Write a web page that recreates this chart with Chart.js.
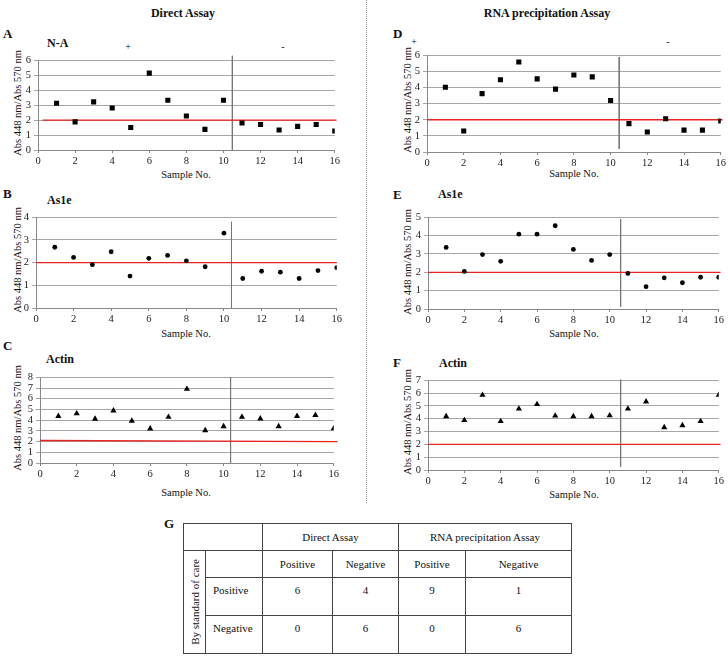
<!DOCTYPE html>
<html>
<head>
<meta charset="utf-8">
<script src="https://cdn.jsdelivr.net/npm/chart.js@4.4.1/dist/chart.umd.min.js"></script>
<style>
  html, body { margin: 0; padding: 0; background: #fff; }
  body { width: 728px; height: 658px; position: relative; overflow: hidden;
         font-family: "Liberation Serif", "DejaVu Serif", serif; color: #111; }
  .t { position: absolute; white-space: nowrap; line-height: 1; }
  .c { transform: translate(-50%, -50%); }
  .l { transform: translate(0, -50%); }
  .b { font-weight: bold; }
  .yt { position: absolute; white-space: nowrap; font-size: 10.5px; line-height: 1;
        transform: translate(-50%, -50%) rotate(-90deg); }
  .cv { position: absolute; }
  #sep { position: absolute; left: 366px; top: 0; height: 503px; border-left: 1px dotted #888; }
  table { position: absolute; left: 183px; top: 523px; border-collapse: collapse;
          font-size: 11px; font-family: "Liberation Serif", "DejaVu Serif", serif; }
  td { border: 1px solid #444; text-align: center; padding: 0; }
  .rot { writing-mode: vertical-rl; transform: rotate(180deg); white-space: nowrap; }
</style>
</head>
<body>
<div id="sep"></div>

<div class="t c b" style="left:183px;top:13px;font-size:12px;">Direct Assay</div>
<div class="t c b" style="left:547px;top:13px;font-size:12px;">RNA precipitation Assay</div>

<div class="t l b" style="left:3px;top:33px;font-size:13px;">A</div>
<div class="t l b" style="left:47px;top:43px;font-size:12px;">N-A</div>
<div class="t c" style="left:128px;top:47px;font-size:10px;">+</div>
<div class="t c" style="left:283px;top:47px;font-size:10px;">-</div>

<div class="t l b" style="left:393px;top:33px;font-size:13px;">D</div>
<div class="t c" style="left:414px;top:42px;font-size:10px;">+</div>
<div class="t c" style="left:668px;top:42px;font-size:10px;">-</div>

<div class="t l b" style="left:3px;top:193px;font-size:13px;">B</div>
<div class="t l b" style="left:47px;top:200px;font-size:12px;">As1e</div>
<div class="t l b" style="left:393px;top:194px;font-size:13px;">E</div>
<div class="t l b" style="left:438px;top:194px;font-size:12px;">As1e</div>

<div class="t l b" style="left:3px;top:345px;font-size:13px;">C</div>
<div class="t l b" style="left:46px;top:359px;font-size:12px;">Actin</div>
<div class="t l b" style="left:393px;top:362px;font-size:13px;">F</div>
<div class="t l b" style="left:439px;top:363px;font-size:12px;">Actin</div>

<div class="yt" style="left:18px;top:103px;">Abs 448 nm/Abs 570 nm</div>
<div class="yt" style="left:408px;top:100px;">Abs 448 nm/Abs 570 nm</div>
<div class="yt" style="left:18px;top:260px;">Abs 448 nm/Abs 570 nm</div>
<div class="yt" style="left:408px;top:262px;">Abs 448 nm/Abs 570 nm</div>
<div class="yt" style="left:18px;top:418px;">Abs 448 nm/Abs 570 nm</div>
<div class="yt" style="left:408px;top:422px;">Abs 448 nm/Abs 570 nm</div>

<div class="t c" style="left:186px;top:175px;font-size:10.5px;">Sample No.</div>
<div class="t c" style="left:574px;top:174px;font-size:10.5px;">Sample No.</div>
<div class="t c" style="left:186px;top:334px;font-size:10.5px;">Sample No.</div>
<div class="t c" style="left:574px;top:334px;font-size:10.5px;">Sample No.</div>
<div class="t c" style="left:186px;top:493px;font-size:10.5px;">Sample No.</div>
<div class="t c" style="left:574px;top:495px;font-size:10.5px;">Sample No.</div>

<canvas id="cA" class="cv"></canvas>
<canvas id="cB" class="cv"></canvas>
<canvas id="cC" class="cv"></canvas>
<canvas id="cD" class="cv"></canvas>
<canvas id="cE" class="cv"></canvas>
<canvas id="cF" class="cv"></canvas>

<div class="t l b" style="left:164px;top:523px;font-size:13px;">G</div>
<table id="tbl"></table>

<script>
// ---- data ----
const samples = [1,2,3,4,5,6,7,8,9,10,11,12,13,14,15,16];
const naDirect    = [3.13,1.88,3.22,2.81,1.51,5.14,3.33,2.27,1.38,3.33,1.81,1.71,1.34,1.58,1.71,1.27];
const naRna       = [4.02,1.30,3.62,4.48,5.58,4.54,3.90,4.78,4.66,3.20,1.76,1.24,2.06,1.36,1.36,1.92];
const as1eDirect  = [2.68,2.23,1.91,2.48,1.41,2.19,2.32,2.08,1.82,3.30,1.30,1.62,1.58,1.30,1.65,1.78];
const as1eRna     = [3.36,2.05,2.97,2.60,4.08,4.08,4.54,3.25,2.65,2.97,1.94,1.22,1.70,1.43,1.73,1.73];
const actinDirect = [4.38,4.62,4.11,4.89,3.93,3.20,4.29,6.91,3.05,3.41,4.29,4.14,3.41,4.38,4.47,3.23];
const actinRna    = [4.18,3.88,5.85,3.80,4.78,5.13,4.23,4.18,4.18,4.25,4.78,5.33,3.33,3.48,3.80,5.85];
const cutoff = 2;
const xMin = 0, xMax = 16, xStep = 2;
const yMaxA = 6, yMaxB = 4, yMaxC = 8, yMaxD = 6, yMaxE = 5, yMaxF = 7;
const dividerX = 10.5;

const tableColHeads = ['Direct Assay', 'RNA precipitation Assay'];
const tableSubHeads = ['Positive', 'Negative', 'Positive', 'Negative'];
const tableRowHeads = ['Positive', 'Negative'];
const tableSideHead = 'By standard of care';
const tableValues = [[6, 4, 9, 1], [0, 6, 0, 6]];

// ---- layout (canvas boxes) ----
const Y_W = 30, X_H = 22, PAD_T = 6, PAD_R = 7;
function place(id, plot) {
  const cv = document.getElementById(id);
  const left = plot.l - Y_W, top = plot.t - PAD_T;
  const w = plot.r + PAD_R - left, h = plot.b + X_H - top;
  cv.style.left = left + 'px'; cv.style.top = top + 'px';
  cv.style.width = w + 'px'; cv.style.height = h + 'px';
  cv.width = w; cv.height = h;
  return cv;
}

const tickFont = { family: '"Liberation Serif", "DejaVu Serif", serif', size: 10.5 };

function makeChart(id, plot, values, yMax, style, radius, red, div) {
  const cv = place(id, plot);
  const pts = samples.map((s, i) => ({ x: s, y: values[i] }));
  new Chart(cv, {
    type: 'scatter',
    data: {
      datasets: [
        { data: pts, pointStyle: style, pointRadius: radius, pointHoverRadius: radius,
          backgroundColor: '#000', borderColor: '#000', borderWidth: 0, order: 0 },
        { type: 'line', data: [{ x: red[0], y: red[1] }, { x: red[2], y: red[3] }],
          borderColor: '#e8231f', borderWidth: 1.3, pointRadius: 0, showLine: true,
          clip: false, order: 1 },
        { type: 'line', data: [{ x: dividerX + div[0], y: div[1] }, { x: dividerX + div[0], y: div[2] }],
          borderColor: '#777', borderWidth: 1, pointRadius: 0, showLine: true,
          clip: false, order: 2 }
      ]
    },
    options: {
      responsive: false, animation: false, devicePixelRatio: 1,
      layout: { padding: { top: PAD_T, right: PAD_R, left: 0, bottom: 0 } },
      plugins: { legend: { display: false }, tooltip: { enabled: false } },
      scales: {
        x: {
          type: 'linear', min: xMin, max: xMax, offset: false,
          ticks: { stepSize: xStep, autoSkip: false, font: tickFont, color: '#222', padding: 2, maxRotation: 0 },
          grid: { drawOnChartArea: false, drawTicks: true, tickLength: 3, color: '#888' },
          border: { color: '#888' },
          afterFit: s => { s.height = X_H; }
        },
        y: {
          min: 0, max: yMax,
          ticks: { stepSize: 1, autoSkip: false, font: tickFont, color: '#222', padding: 3 },
          grid: { color: '#a6a6a6', lineWidth: 1, tickLength: 4, drawTicks: true },
          border: { color: '#888' },
          afterFit: s => { s.width = Y_W; }
        }
      }
    }
  });
}

makeChart('cA', { l: 38, r: 335, t: 57, b: 150 }, naDirect, yMaxA, 'rect', 3.6, [0.25, cutoff, 16.1, cutoff], [-0.02, 6.3, 0]);
makeChart('cD', { l: 427, r: 721, t: 52, b: 152 }, naRna, yMaxD, 'rect', 3.6, [0, cutoff, 16.1, cutoff], [-0.03, 5.9, 0.2]);
makeChart('cB', { l: 36, r: 337, t: 214, b: 308 }, as1eDirect, yMaxB, 'circle', 2.4, [0, cutoff, 16, cutoff], [-0.1, 3.8, 0]);
makeChart('cE', { l: 428, r: 719, t: 214, b: 309 }, as1eRna, yMaxE, 'circle', 2.4, [0, cutoff, 16.1, cutoff], [0.1, 4.9, 0.12]);
makeChart('cC', { l: 40, r: 334, t: 374, b: 463 }, actinDirect, yMaxC, 'triangle', 3.6, [0, 2.1, 16.2, 2.0], [-0.12, 8, 0]);
makeChart('cF', { l: 428, r: 719, t: 377, b: 470 }, actinRna, yMaxF, 'triangle', 3.6, [0, cutoff, 16.1, cutoff], [0.1, 7.05, 0.25]);

// ---- table ----
(function () {
  const t = document.getElementById('tbl');
  const colW = [22, 57, 70, 66, 67, 106];
  const rowH = [27, 27, 38, 38];
  let h = '<colgroup>' + colW.map(w => '<col style="width:' + w + 'px">').join('') + '</colgroup>';
  h += '<tr style="height:' + rowH[0] + 'px"><td colspan="2"></td>' +
       tableColHeads.map(c => '<td colspan="2">' + c + '</td>').join('') + '</tr>';
  h += '<tr style="height:' + rowH[1] + 'px"><td rowspan="3"><div class="rot" style="margin:auto">' + tableSideHead + '</div></td><td></td>' +
       tableSubHeads.map(c => '<td>' + c + '</td>').join('') + '</tr>';
  tableRowHeads.forEach((r, i) => {
    h += '<tr style="height:' + rowH[2 + i] + 'px"><td style="vertical-align:top;text-align:left;padding:6px 0 0 7px">' + r + '</td>' +
         tableValues[i].map(v => '<td style="vertical-align:top;padding-top:6px">' + v + '</td>').join('') + '</tr>';
  });
  t.innerHTML = h;
})();
</script>
</body>
</html>
